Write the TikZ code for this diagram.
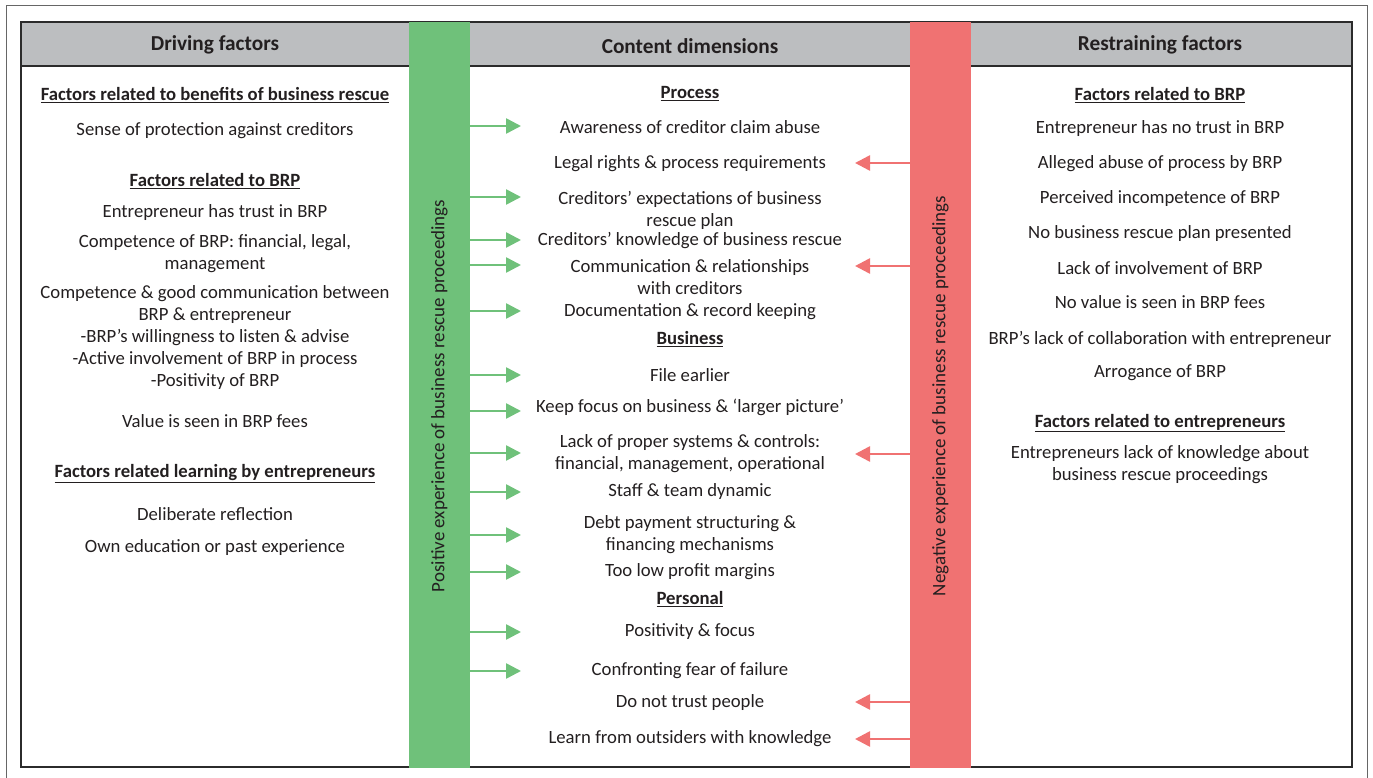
\documentclass[tikz,border=0pt]{standalone}
\usepackage{fontspec}
\setmainfont{Carlito}
\usetikzlibrary{arrows.meta}
\definecolor{hdr}{HTML}{BCBEC0}
\definecolor{gbarc}{HTML}{6FC17A}
\definecolor{rbarc}{HTML}{F07272}
\definecolor{frame}{HTML}{2B2B2B}
\definecolor{txtc}{HTML}{231F20}
\tikzset{
  txt/.style={inner sep=0pt, text=txtc, font=\fontsize{18.7}{22}\selectfont, align=center},
  ttl/.style={txt, font=\bfseries\fontsize{18.7}{22}\selectfont},
  hd/.style={inner sep=0pt, text=txtc, font=\bfseries\fontsize{21.3}{22}\selectfont},
  garrow/.style={draw=gbarc, line width=2.6pt, -{Triangle[length=15pt,width=15pt]}},
  rarrow/.style={draw=rbarc, line width=2.6pt, -{Triangle[length=15pt,width=15pt]}},
  vtxt/.style={inner sep=0pt, text=txtc, font=\fontsize{19}{22}\selectfont, rotate=90},
}
\newcommand{\ul}[1]{\underline{#1}}
\begin{document}
\begin{tikzpicture}[x=1pt,y=-1pt]
\useasboundingbox (0,0) rectangle (1373,778);
% outer frame
\draw[draw=gray!80!black, line width=1pt] (6,778) -- (6,6) -- (1367,6) -- (1367,778);
% header band
\fill[hdr] (21,22) rectangle (1352,66);
\draw[frame, line width=2pt] (21,66) -- (1352,66);
% inner box
\draw[frame, line width=2.2pt] (21,22) rectangle (1352,767);
% bars
\node[fill=gbarc, minimum width=61pt, minimum height=746pt, inner sep=0pt] (gb) at (439.5,395) {};
\node[fill=rbarc, minimum width=61pt, minimum height=746pt, inner sep=0pt] (rb) at (940.5,395) {};
\node[vtxt] (gbt) at (439.5,396) {Positive experience of business rescue proceedings};
\node[vtxt] (rbt) at (940.5,396) {Negative experience of business rescue proceedings};
% headers
\node[hd] (h1) at (215,45) {Driving factors};
\node[hd] (h2) at (690,46) {Content dimensions};
\node[hd] (h3) at (1160,45) {Restraining factors};
% left column
\node[ttl] (l1) at (215,95) {\ul{Factors related to benefits of business rescue}};
\node[txt] (l2) at (215,131) {Sense of protection against creditors};
\node[ttl] (l3) at (215,181) {\ul{Factors related to BRP}};
\node[txt] (l4) at (215,213) {Entrepreneur has trust in BRP};
\node[txt] (l5) at (215,254) {Competence of BRP: financial, legal,\\management};
\node[txt] (l6) at (215,338) {Competence \& good communication between\\BRP \& entrepreneur\\-BRP’s willingness to listen \& advise\\-Active involvement of BRP in process\\-Positivity of BRP};
\node[txt] (l7) at (215,421) {Value is seen in BRP fees};
\node[ttl] (l8) at (215,474) {\ul{Factors related learning by entrepreneurs}};
\node[txt] (l9) at (215,514) {Deliberate reflection};
\node[txt] (l10) at (215,548) {Own education or past experience};
% middle column
\node[ttl] (m1) at (690,94) {\ul{Process}};
\node[txt] (m2) at (690,127) {Awareness of creditor claim abuse};
\node[txt] (m3) at (690,164) {Legal rights \& process requirements};
\node[txt] (m4) at (690,210) {Creditors’ expectations of business\\rescue plan};
\node[txt] (m5) at (690,241) {Creditors’ knowledge of business rescue};
\node[txt] (m6) at (690,277) {Communication \& relationships\\with creditors};
\node[txt] (m7) at (690,312) {Documentation \& record keeping};
\node[ttl] (m8) at (690,339) {\ul{Business}};
\node[txt] (m9) at (690,375) {File earlier};
\node[txt] (m10) at (690,407) {Keep focus on business \& ‘larger picture’};
\node[txt] (m11) at (690,454) {Lack of proper systems \& controls:\\financial, management, operational};
\node[txt] (m12) at (690,492) {Staff \& team dynamic};
\node[txt] (m13) at (690,535) {Debt payment structuring \&\\financing mechanisms};
\node[txt] (m14) at (690,572) {Too low profit margins};
\node[ttl] (m15) at (690,599) {\ul{Personal}};
\node[txt] (m16) at (690,632) {Positivity \& focus};
\node[txt] (m17) at (690,671) {Confronting fear of failure};
\node[txt] (m18) at (690,703) {Do not trust people};
\node[txt] (m19) at (690,739) {Learn from outsiders with knowledge};
% right column
\node[ttl] (r1) at (1160,95) {\ul{Factors related to BRP}};
\node[txt] (r2) at (1160,129) {Entrepreneur has no trust in BRP};
\node[txt] (r3) at (1160,164) {Alleged abuse of process by BRP};
\node[txt] (r4) at (1160,199) {Perceived incompetence of BRP};
\node[txt] (r5) at (1160,234) {No business rescue plan presented};
\node[txt] (r6) at (1160,268) {Lack of involvement of BRP};
\node[txt] (r7) at (1160,302) {No value is seen in BRP fees};
\node[txt] (r8) at (1160,339) {BRP’s lack of collaboration with entrepreneur};
\node[txt] (r9) at (1160,373) {Arrogance of BRP};
\node[ttl] (r10) at (1160,423) {\ul{Factors related to entrepreneurs}};
\node[txt] (r11) at (1160,465) {Entrepreneurs lack of knowledge about\\business rescue proceedings};
% green arrows
\foreach \n/\yy in {m2/126, m4/197, m5/240, m6/265, m7/311, m9/375, m10/411, m11/453, m12/492, m13/535, m14/572, m16/632, m17/671}{
  \coordinate (ge-\n) at (521,\yy);
  \draw[garrow] (gb.east |- ge-\n) -- (ge-\n);
}
% red arrows
\foreach \n/\yy in {m3/163, m6/266, m11/454, m18/702, m19/739}{
  \coordinate (re-\n) at (855,\yy);
  \draw[rarrow] (rb.west |- re-\n) -- (re-\n);
}
\end{tikzpicture}
\end{document}
